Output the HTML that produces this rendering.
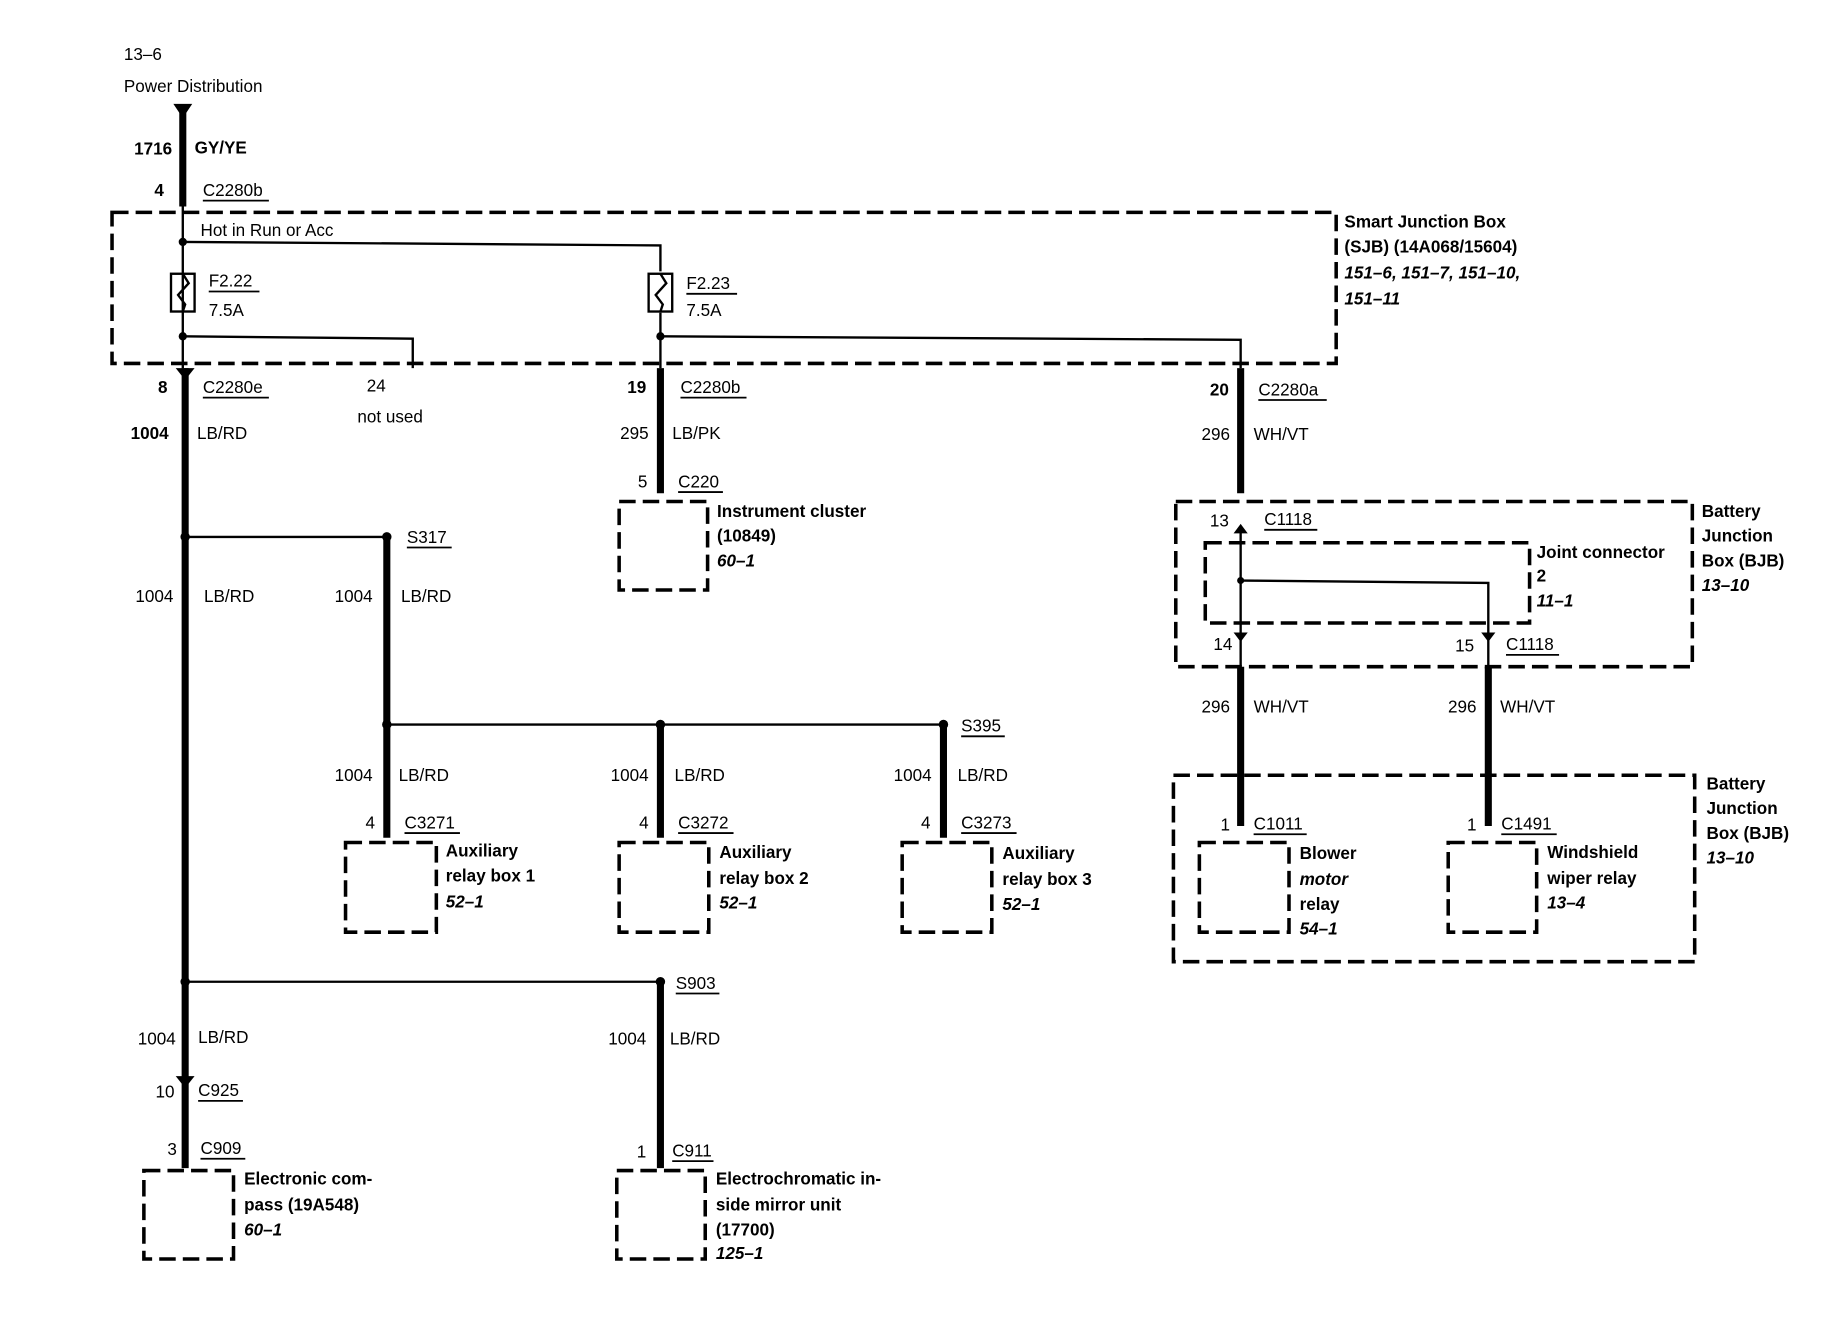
<!DOCTYPE html>
<html><head><meta charset="utf-8"><style>
html,body{margin:0;padding:0;background:#fff;}
svg{display:block;}
text{font-family:"Liberation Sans",Arial,sans-serif;font-weight:bold;font-size:14.5px;fill:#000;}
.i{font-style:italic;}
.r{text-anchor:end;}
.n{font-weight:normal;}
</style></head><body>
<svg width="1848" height="1344" viewBox="0 0 1567 1139" preserveAspectRatio="none" xmlns="http://www.w3.org/2000/svg">
<g fill="none" stroke="#000">
<g stroke-width="3" stroke-dasharray="14 6">
<rect x="95" y="180" width="1038" height="128"/>
<rect x="525" y="425" width="75" height="75"/>
<rect x="293" y="714" width="77" height="76"/>
<rect x="525" y="714" width="76" height="76"/>
<rect x="765" y="714" width="76" height="76"/>
<rect x="122" y="992" width="76" height="75"/>
<rect x="523" y="992" width="75" height="75"/>
<rect x="997" y="425" width="438" height="140"/>
<rect x="1022" y="460" width="275" height="68"/>
<rect x="995" y="657" width="442" height="158"/>
<rect x="1017" y="714" width="76" height="76"/>
<rect x="1228" y="714" width="75" height="76"/>
</g>
<g stroke-width="6">
<line x1="155" y1="92" x2="155" y2="175"/>
<line x1="157" y1="312" x2="157" y2="990"/>
<line x1="560" y1="312" x2="560" y2="418"/>
<line x1="1052" y1="312" x2="1052" y2="418"/>
<line x1="328" y1="455" x2="328" y2="710"/>
<line x1="560" y1="614" x2="560" y2="710"/>
<line x1="800" y1="614" x2="800" y2="710"/>
<line x1="560" y1="832" x2="560" y2="990"/>
<line x1="1052" y1="565" x2="1052" y2="700"/>
<line x1="1262" y1="565" x2="1262" y2="700"/>
</g>
<g stroke-width="2">
<line x1="155" y1="175" x2="155" y2="312"/>
<polyline points="155,205 560,208 560,230"/>
<line x1="560" y1="265" x2="560" y2="312"/>
<polyline points="155,285 350,287 350,312"/>
<polyline points="560,285 1052,288 1052,312"/>
<line x1="157" y1="455" x2="328" y2="455"/>
<line x1="328" y1="614" x2="800" y2="614"/>
<line x1="157" y1="832" x2="560" y2="832"/>
<line x1="1052" y1="450" x2="1052" y2="540"/>
<polyline points="1052,492 1262,494 1262,540"/>
<line x1="1052" y1="540" x2="1052" y2="565"/>
<line x1="1262" y1="540" x2="1262" y2="565"/>
<rect x="145" y="232" width="20" height="32"/>
<polyline points="155,232 160,240 151,250 157,258 155,264"/>
<rect x="550" y="232" width="20" height="32"/>
<polyline points="560,232 565,240 556,250 562,258 560,264"/>
</g>
<g stroke-width="1.5">
<line x1="172" y1="170" x2="228" y2="170"/>
<line x1="177" y1="247" x2="220" y2="247"/>
<line x1="582" y1="249" x2="625" y2="249"/>
<line x1="172" y1="337" x2="228" y2="337"/>
<line x1="577" y1="337" x2="633" y2="337"/>
<line x1="1067" y1="339" x2="1125" y2="339"/>
<line x1="575" y1="417" x2="613" y2="417"/>
<line x1="345" y1="464" x2="383" y2="464"/>
<line x1="815" y1="624" x2="852" y2="624"/>
<line x1="343" y1="706" x2="390" y2="706"/>
<line x1="575" y1="706" x2="622" y2="706"/>
<line x1="815" y1="706" x2="862" y2="706"/>
<line x1="573" y1="842" x2="610" y2="842"/>
<line x1="168" y1="933" x2="206" y2="933"/>
<line x1="170" y1="982" x2="208" y2="982"/>
<line x1="570" y1="984" x2="605" y2="984"/>
<line x1="1072" y1="449" x2="1117" y2="449"/>
<line x1="1277" y1="555" x2="1322" y2="555"/>
<line x1="1063" y1="707" x2="1108" y2="707"/>
<line x1="1273" y1="707" x2="1320" y2="707"/>
</g>
</g>
<g fill="#000">
<circle cx="155" cy="205" r="3.5"/><circle cx="155" cy="285" r="3.5"/><circle cx="560" cy="285" r="3.5"/>
<circle cx="157" cy="455" r="4"/><circle cx="328" cy="455" r="4"/><circle cx="328" cy="614" r="4"/>
<circle cx="560" cy="614" r="4"/><circle cx="800" cy="614" r="4"/><circle cx="157" cy="832" r="4"/><circle cx="560" cy="832" r="4"/>
<circle cx="1052" cy="492" r="3"/><circle cx="1052" cy="657" r="3"/><circle cx="1262" cy="657" r="3"/>
<polygon points="147,88 163,88 155,100"/>
<polygon points="149,312 165,312 157,322"/>
<polygon points="1046,452 1058,452 1052,444"/>
<polygon points="1046,536 1058,536 1052,544"/>
<polygon points="1256,536 1268,536 1262,544"/>
<polygon points="149,912 165,912 157,922"/>
</g>
<text class="n" x="105" y="51">13–6</text>
<text class="n" x="105" y="78">Power Distribution</text>
<text class="r" x="146" y="131">1716</text><text x="165" y="130">GY/YE</text>
<text class="r" x="139" y="166">4</text><text class="n" x="172" y="166">C2280b</text>
<text class="n" x="170" y="200">Hot in Run or Acc</text>
<text class="n" x="177" y="243">F2.22</text><text class="n" x="177" y="268">7.5A</text>
<text class="n" x="582" y="245">F2.23</text><text class="n" x="582" y="268">7.5A</text>
<text x="1140" y="193">Smart Junction Box</text>
<text x="1140" y="214">(SJB) (14A068/15604)</text>
<text class="i" x="1140" y="236">151–6, 151–7, 151–10,</text>
<text class="i" x="1140" y="258">151–11</text>
<text class="r" x="142" y="333">8</text><text class="n" x="172" y="333">C2280e</text>
<text class="n" x="311" y="332">24</text><text class="n" x="303" y="358">not used</text>
<text class="r" x="548" y="333">19</text><text class="n" x="577" y="333">C2280b</text>
<text class="r" x="1042" y="335">20</text><text class="n" x="1067" y="335">C2280a</text>
<text class="r" x="143" y="372" >1004</text><text class="n" x="167" y="372">LB/RD</text>
<text class="r n" x="550" y="372">295</text><text class="n" x="570" y="372">LB/PK</text>
<text class="r n" x="1043" y="373">296</text><text class="n" x="1063" y="373">WH/VT</text>
<text class="r n" x="549" y="413">5</text><text class="n" x="575" y="413">C220</text>
<text x="608" y="438">Instrument cluster</text><text x="608" y="459">(10849)</text><text class="i" x="608" y="480">60–1</text>
<text class="n" x="345" y="460">S317</text>
<text class="r n" x="147" y="510">1004</text><text class="n" x="173" y="510">LB/RD</text>
<text class="r n" x="316" y="510">1004</text><text class="n" x="340" y="510">LB/RD</text>
<text class="n" x="815" y="620">S395</text>
<text class="r n" x="316" y="662">1004</text><text class="n" x="338" y="662">LB/RD</text>
<text class="r n" x="550" y="662">1004</text><text class="n" x="572" y="662">LB/RD</text>
<text class="r n" x="790" y="662">1004</text><text class="n" x="812" y="662">LB/RD</text>
<text class="r n" x="318" y="702">4</text><text class="n" x="343" y="702">C3271</text>
<text class="r n" x="550" y="702">4</text><text class="n" x="575" y="702">C3272</text>
<text class="r n" x="789" y="702">4</text><text class="n" x="815" y="702">C3273</text>
<text x="378" y="726">Auxiliary</text><text x="378" y="747">relay box 1</text><text class="i" x="378" y="769">52–1</text>
<text x="610" y="727">Auxiliary</text><text x="610" y="749">relay box 2</text><text class="i" x="610" y="770">52–1</text>
<text x="850" y="728">Auxiliary</text><text x="850" y="750">relay box 3</text><text class="i" x="850" y="771">52–1</text>
<text class="n" x="573" y="838">S903</text>
<text class="r n" x="149" y="885">1004</text><text class="n" x="168" y="884">LB/RD</text>
<text class="r n" x="548" y="885">1004</text><text class="n" x="568" y="885">LB/RD</text>
<text class="r n" x="148" y="930">10</text><text class="n" x="168" y="929">C925</text>
<text class="r n" x="150" y="979">3</text><text class="n" x="170" y="978">C909</text>
<text class="r n" x="548" y="981">1</text><text class="n" x="570" y="980">C911</text>
<text x="207" y="1004">Electronic com-</text><text x="207" y="1026">pass (19A548)</text><text class="i" x="207" y="1047">60–1</text>
<text x="607" y="1004">Electrochromatic in-</text><text x="607" y="1026">side mirror unit</text><text x="607" y="1047">(17700)</text><text class="i" x="607" y="1067">125–1</text>
<text class="r n" x="1042" y="446">13</text><text class="n" x="1072" y="445">C1118</text>
<text x="1303" y="473">Joint connector</text><text x="1303" y="493">2</text><text class="i" x="1303" y="514">11–1</text>
<text x="1443" y="438">Battery</text><text x="1443" y="459">Junction</text><text x="1443" y="480">Box (BJB)</text><text class="i" x="1443" y="501">13–10</text>
<text class="r n" x="1045" y="551">14</text><text class="r n" x="1250" y="552">15</text><text class="n" x="1277" y="551">C1118</text>
<text class="r n" x="1043" y="604">296</text><text class="n" x="1063" y="604">WH/VT</text>
<text class="r n" x="1252" y="604">296</text><text class="n" x="1272" y="604">WH/VT</text>
<text x="1447" y="669">Battery</text><text x="1447" y="690">Junction</text><text x="1447" y="711">Box (BJB)</text><text class="i" x="1447" y="732">13–10</text>
<text class="r n" x="1043" y="704">1</text><text class="n" x="1063" y="703">C1011</text>
<text class="r n" x="1252" y="704">1</text><text class="n" x="1273" y="703">C1491</text>
<text x="1102" y="728">Blower</text><text class="i" x="1102" y="750">motor</text><text x="1102" y="771">relay</text><text class="i" x="1102" y="792">54–1</text>
<text x="1312" y="727">Windshield</text><text x="1312" y="749">wiper relay</text><text class="i" x="1312" y="770">13–4</text>
</svg>
</body></html>
